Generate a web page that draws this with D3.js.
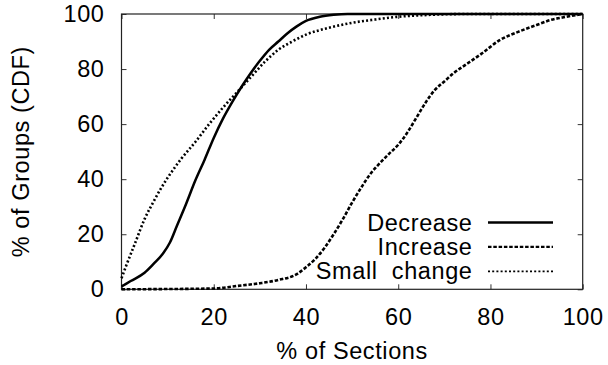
<!DOCTYPE html>
<html>
<head>
<meta charset="utf-8">
<script src="https://cdn.jsdelivr.net/npm/d3@7"></script>
<style>
  body { margin: 0; background: #fff; }
  text { font-family: "Liberation Sans", Arial, sans-serif; fill: #000; white-space: pre; letter-spacing: 0.6px; }
</style>
</head>
<body>
<div id="chart"></div>
<script>
// data (x = % of sections, y = % of groups)
const decreaseX = [0, 2, 5, 7, 9, 10.5, 12, 14, 16, 18, 20, 22, 24, 26, 28, 30, 32, 34, 36, 38, 40, 43, 46, 49, 100];
const decreaseY = [1, 3, 6, 9.3, 13, 17, 23, 31, 39.5, 47, 55, 62, 68, 73.5, 78.5, 83, 87, 90, 93, 95.5, 97.5, 99, 99.7, 100, 100];

const increaseX = [0, 20, 25, 30, 34, 38, 40, 42, 44, 46, 48, 50, 52, 54, 56, 58, 60, 62, 64, 66, 68, 70, 72, 75, 78, 82, 86, 90, 93, 96.5, 100];
const increaseY = [0, 0.3, 1.2, 2.2, 3.4, 5.5, 8, 11, 15, 20, 25.5, 31.5, 37, 42, 45.8, 49.2, 52.5, 57, 62.5, 68, 72.5, 75.5, 78.5, 82, 85.5, 90.5, 93.5, 96, 97.8, 99, 100];

const smallX = [0, 1, 3, 5, 7, 8.5, 10, 13, 16, 19, 22, 25, 28, 31, 34, 37, 40, 45, 50, 55, 60, 67, 75, 100];
const smallY = [4, 8.5, 17, 25.5, 32, 36.5, 40.5, 47.5, 53.5, 60, 66, 71.5, 77, 82.5, 87, 90, 92.5, 95, 96.8, 98, 99, 99.7, 100, 100];

const xTicks = [0, 20, 40, 60, 80, 100];
const yTicks = [0, 20, 40, 60, 80, 100];
const seriesNames = ["Decrease", "Increase", "Small  change"];

const W = 608, H = 365;
const m = { left: 121.5, right: 25.3, top: 14, bottom: 75.7 };
const iw = W - m.left - m.right, ih = H - m.top - m.bottom;

const svg = d3.select("#chart").append("svg")
  .attr("width", W).attr("height", H);
const g = svg.append("g").attr("transform", `translate(${m.left},${m.top})`);

const x = d3.scaleLinear().domain([0, 100]).range([0, iw]);
const y = d3.scaleLinear().domain([0, 100]).range([ih, 0]);

const fs = 23.5;
// axes: inward ticks mirrored on all sides
const axisStyle = sel => {
  sel.select(".domain").remove();
  sel.selectAll(".tick line").attr("stroke", "#333").attr("stroke-width", 1);
  sel.selectAll("text").attr("font-size", fs).attr("font-family", "Liberation Sans, Arial, sans-serif");
};
g.append("g").attr("transform", `translate(0,${ih})`)
  .call(d3.axisBottom(x).tickValues(xTicks).tickSizeInner(-5).tickPadding(19))
  .call(axisStyle);
g.append("g")
  .call(d3.axisTop(x).tickValues(xTicks).tickSizeInner(-5).tickFormat(""))
  .call(axisStyle);
g.append("g")
  .call(d3.axisLeft(y).tickValues(yTicks).tickSizeInner(-5).tickPadding(17))
  .call(axisStyle);
g.append("g").attr("transform", `translate(${iw},0)`)
  .call(d3.axisRight(y).tickValues(yTicks).tickSizeInner(-5).tickFormat(""))
  .call(axisStyle);

g.append("rect").attr("width", iw).attr("height", ih)
  .attr("fill", "none").attr("stroke", "#222").attr("stroke-width", 1.2);

const styles = [
  { dash: null, w: 2.5, lw: 2.5 },
  { dash: "3.5,1.8", w: 2.6, lw: 2.2 },
  { dash: "2,2.2", w: 2.6, lw: 1.8 }
];
const data = [
  d3.zip(decreaseX, decreaseY),
  d3.zip(increaseX, increaseY),
  d3.zip(smallX, smallY)
];
const line = d3.line().x(d => x(d[0])).y(d => y(d[1])).curve(d3.curveMonotoneX);

const plot = g.append("g");
data.forEach((pts, i) => {
  plot.append("path").datum(pts)
    .attr("d", line)
    .attr("fill", "none")
    .attr("stroke", "#000")
    .attr("stroke-width", styles[i].w)
    .attr("stroke-dasharray", styles[i].dash);
});

// legend
const lg = svg.append("g");
seriesNames.forEach((name, i) => {
  const ly = 222.5 + i * 24.4;
  lg.append("text").attr("x", 472.5).attr("y", ly + 8)
    .attr("text-anchor", "end").attr("font-size", fs).text(name);
  lg.append("line").attr("x1", 488).attr("x2", 553)
    .attr("y1", ly).attr("y2", ly)
    .attr("stroke", "#000").attr("stroke-width", styles[i].lw)
    .attr("stroke-dasharray", styles[i].dash);
});

// axis titles
svg.append("text").attr("x", m.left + iw / 2).attr("y", 359)
  .attr("text-anchor", "middle").attr("font-size", fs).text("% of Sections");
svg.append("text")
  .attr("transform", `translate(29,${m.top + ih / 2}) rotate(-90)`)
  .attr("text-anchor", "middle").attr("font-size", fs).text("% of Groups (CDF)");
</script>
</body>
</html>
